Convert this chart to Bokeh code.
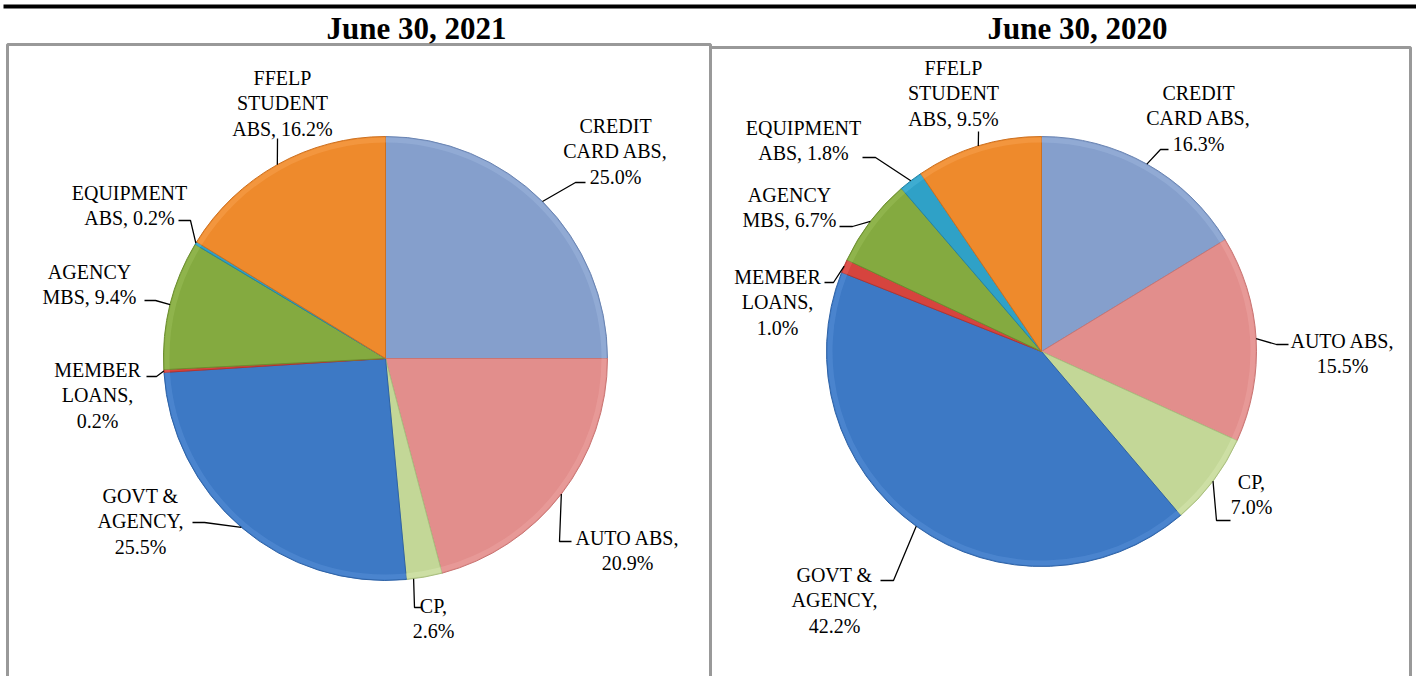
import numpy as np
from bokeh.plotting import figure
from bokeh.models import Range1d, ColumnDataSource
from bokeh.core.properties import value
from bokeh.embed import file_html
from bokeh.resources import INLINE

W, H = 1416, 676

# ---------------- data ----------------
categories = ["CREDIT CARD ABS", "AUTO ABS", "CP", "GOVT & AGENCY",
              "MEMBER LOANS", "AGENCY MBS", "EQUIPMENT ABS", "FFELP STUDENT ABS"]
values_2021 = [25.0, 20.9, 2.6, 25.5, 0.2, 9.4, 0.2, 16.2]
values_2020 = [16.3, 15.5, 7.0, 42.2, 1.0, 6.7, 1.8, 9.5]
label_templates = ["CREDIT\nCARD ABS,\n{}", "AUTO ABS,\n{}", "CP,\n{}", "GOVT &\nAGENCY,\n{}",
                   "MEMBER\nLOANS,\n{}", "AGENCY\nMBS, {}", "EQUIPMENT\nABS, {}", "FFELP\nSTUDENT\nABS, {}"]
titles = ["June 30, 2021", "June 30, 2020"]

# ---------------- styles ----------------
fills = ["#859FCC", "#E28E8C", "#C3D797", "#3D79C5", "#D6443E", "#84AA40", "#2FA1C7", "#EE8A2C"]
edges = ["#6A84B2", "#C97573", "#A9BE7E", "#2E62A6", "#B33430", "#6B8D2E", "#2384A6", "#CC7020"]
rims = ["#A3BCE2", "#F0AAA8", "#DCEBB8", "#5E95DB", "#E86A64", "#A0C45E", "#55BEE0", "#F9A75A"]

# ---------------- layout (pixel coords, y down) ----------------
# lead: [start point, elbow point]; anchor: where in the slice (0..1) the leader meets the rim
pies = [
    dict(cx=385, cy=358, r=222, title_x=416,
         text_xy=[(615, 151), (627, 550), (433, 618), (140, 521), (97, 395), (89, 284), (129, 205), (282, 103)],
         lead=[[(585, 182), (575, 182)], [(571, 541), (559, 541)], [(421, 607), (414, 607)],
               [(192, 522), (204, 522)], [(146, 376), (156, 376)], [(144, 300), (155, 300)],
               [(178, 220), (190, 220)], [(277, 138), (277, 140)]],
         anchor=[0.5, 0.5, 0.8, 0.5, 0.5, 0.5, 0.5, 0.5]),
    dict(cx=1041, cy=351, r=215, title_x=1077,
         text_xy=[(1198, 118), (1342, 353), (1251, 494), (834, 600), (777, 302), (789, 207), (803, 140), (953, 93)],
         lead=[[(1168, 149), (1160, 149)], [(1288, 344), (1276, 344)], [(1230, 520), (1216, 520)],
               [(880, 580), (893, 580)], [(824, 282), (833, 282)], [(839, 226), (852, 226)],
               [(862, 157), (875, 157)], [(978, 131), (978, 133)]],
         anchor=[0.5, 0.5, 0.5, 0.5, 0.5, 0.5, 0.5, 0.5]),
]

def Y(py):
    return H - py

p = figure(width=W, height=H, x_range=Range1d(0, W), y_range=Range1d(0, H),
           output_backend="svg", toolbar_location=None, min_border=0)
p.axis.visible = False
p.grid.visible = False
p.outline_line_color = None
p.background_fill_color = "white"

# top rule
p.quad(left=[3], right=[W], bottom=[Y(8)], top=[Y(4)], fill_color="black", line_color=None)

# boxes
p.multi_line(xs=[[7, 7, 710, 710], [710, 710, 1410, 1410]],
             ys=[[Y(H + 5), Y(44), Y(44), Y(H + 5)], [Y(H + 5), Y(47), Y(47), Y(H + 5)]],
             line_color="#999999", line_width=3)

serif = value("Liberation Serif")

for pie, vals, title in zip(pies, [values_2021, values_2020], titles):
    v = np.array(vals, dtype=float)
    frac = v / v.sum()
    cum = np.concatenate([[0.0], np.cumsum(frac)])
    start = np.pi / 2 - 2 * np.pi * cum[:-1]
    end = np.pi / 2 - 2 * np.pi * cum[1:]
    anc = np.array(pie["anchor"])
    at = start + (end - start) * anc
    cx, cy, r = pie["cx"], Y(pie["cy"]), pie["r"]
    src = ColumnDataSource(dict(start=start, end=end, fill=fills, edge=edges, rim=rims,
                                cat=categories))
    p.wedge(x=cx, y=cy, radius=r, start_angle="start", end_angle="end", direction="clock",
            fill_color="fill", line_color="edge", line_width=1, source=src)
    # bevel rim highlight
    p.annular_wedge(x=cx, y=cy, inner_radius=r - 6, outer_radius=r - 1, start_angle="start",
                    end_angle="end", direction="clock", fill_color="rim", fill_alpha=0.4,
                    line_color=None, source=src)

    # labels
    tx = [xy[0] for xy in pie["text_xy"]]
    ty = [Y(xy[1]) for xy in pie["text_xy"]]
    texts = [t.format(f"{val:.1f}%") for t, val in zip(label_templates, vals)]
    p.text(x=tx, y=ty, text=texts, text_font=serif, text_font_size="20px",
           text_align="center", text_baseline="middle", text_line_height=1.18, text_color="black")

    # leader lines
    ex = cx + r * np.cos(at)
    ey = cy + r * np.sin(at)
    xs, ys = [], []
    for (s, e), px, py in zip(pie["lead"], ex, ey):
        xs.append([s[0], e[0], px])
        ys.append([Y(s[1]), Y(e[1]), py])
    p.multi_line(xs=xs, ys=ys, line_color="black", line_width=1.3)

    # title
    p.text(x=[pie["title_x"]], y=[Y(28)], text=[title], text_font=serif, text_font_size="31px",
           text_font_style="bold", text_align="center", text_baseline="middle", text_color="black")

open("out.html", "w").write(file_html(p, INLINE))
